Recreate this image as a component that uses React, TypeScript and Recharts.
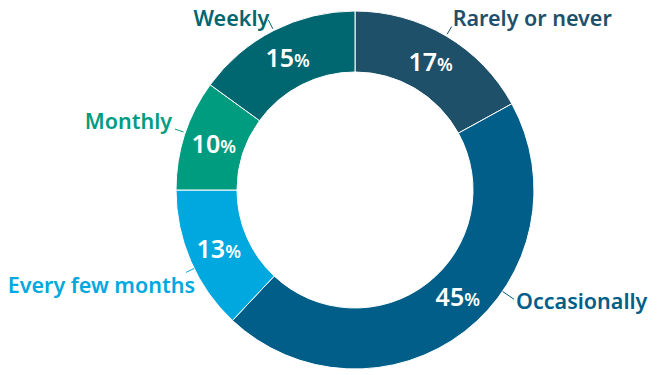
import React from "react";
import { PieChart, Pie, Cell } from "recharts";

const categories = ["Rarely or never", "Occasionally", "Every few months", "Monthly", "Weekly"];
const shares = [17, 45, 13, 10, 15];
const colors = ["#1f5069", "#005e88", "#00a8e0", "#009c7f", "#00666f"];

const data = categories.map((name, i) => ({ name, value: shares[i] }));

// layout tweaks for labels (angle shifts in degrees, Recharts convention)
const LAYOUT = [
  { nameShift: 0, r0: 2, r1: 11, anchor: "start", dx: 1, dy: 0, pctShift: 0 },
  { nameShift: 17.7, r0: 0, r1: 14, anchor: "start", dx: 2, dy: 10, pctShift: 6 },
  { nameShift: 2.6, r0: 0, r1: 9, anchor: "end", dx: 9, dy: 21, pctShift: 0 },
  { nameShift: -0.7, r0: 2, r1: 11, anchor: "end", dx: -3, dy: 0, pctShift: 0 },
  { nameShift: 0, r0: 2, r1: 12, anchor: "end", dx: 1, dy: 6, pctShift: 0 },
];

const RAD = Math.PI / 180;
const FONT = "'Noto Sans', 'Open Sans', sans-serif";

const renderLabel = (props: any) => {
  const { cx, cy, midAngle, innerRadius, outerRadius, index, name, value } = props;
  const L = LAYOUT[index];
  const pa = (midAngle + L.pctShift) * RAD;
  const pr = (innerRadius + outerRadius) / 2;
  const px = cx + pr * Math.cos(-pa);
  const py = cy + pr * Math.sin(-pa);
  const na = (midAngle + L.nameShift) * RAD;
  const x0 = cx + (outerRadius + L.r0) * Math.cos(-na);
  const y0 = cy + (outerRadius + L.r0) * Math.sin(-na);
  const x1 = cx + (outerRadius + L.r1) * Math.cos(-na);
  const y1 = cy + (outerRadius + L.r1) * Math.sin(-na);
  const col = colors[index];
  return (
    <g>
      <text
        x={px}
        y={py + 9}
        textAnchor="middle"
        fill="#ffffff"
        fontFamily={FONT}
        fontWeight={600}
      >
        <tspan fontSize={25}>{value}</tspan>
        <tspan fontSize={18}>%</tspan>
      </text>
      <line x1={x0} y1={y0} x2={x1} y2={y1} stroke={col} strokeWidth={1} />
      <text
        x={x1 + L.dx}
        y={y1 + L.dy}
        textAnchor={L.anchor as any}
        fill={col}
        fontFamily={FONT}
        fontWeight={600}
        fontSize={21.5}
      >
        {name}
      </text>
    </g>
  );
};

export default function App() {
  return (
    <div style={{ position: "absolute", left: 0, top: 0, width: 657, height: 375, background: "#fff" }}>
      <PieChart width={657} height={375} margin={{ top: 0, right: 0, bottom: 0, left: 0 }}>
        <Pie
          data={data}
          dataKey="value"
          nameKey="name"
          cx={355}
          cy={190}
          innerRadius={118}
          outerRadius={179}
          startAngle={90}
          endAngle={-270}
          stroke="#ffffff"
          strokeWidth={1}
          label={renderLabel}
          labelLine={false}
          isAnimationActive={false}
        >
          {data.map((d, i) => (
            <Cell key={d.name} fill={colors[i]} />
          ))}
        </Pie>
      </PieChart>
    </div>
  );
}
